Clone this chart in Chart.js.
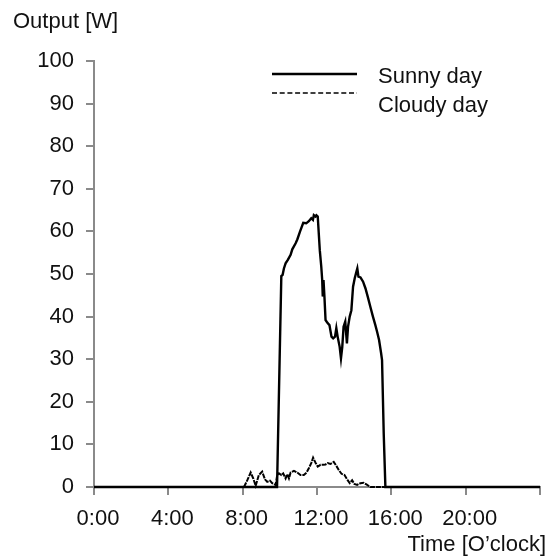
<!DOCTYPE html>
<html>
<head>
<meta charset="utf-8">
<script src="https://cdn.jsdelivr.net/npm/chart.js@4"></script>
<style>
  html, body { margin: 0; padding: 0; background: #fff; }
  #wrap { width: 555px; height: 556px; position: relative; }
</style>
</head>
<body>
<div id="wrap"><canvas id="chart"></canvas></div>
<script>
'use strict';

// time of day in decimal hours, output in W
const sunnyTime = [0, 9.85, 10.08, 10.15, 10.22, 10.31, 10.43, 10.58, 10.67, 10.85, 10.94, 11.08, 11.26, 11.42, 11.56, 11.69, 11.78, 11.83, 11.92, 11.97, 12.04, 12.15, 12.23, 12.28, 12.31, 12.35, 12.40, 12.46, 12.55, 12.67, 12.78, 12.87, 12.97, 13.04, 13.11, 13.22, 13.29, 13.36, 13.43, 13.52, 13.61, 13.67, 13.76, 13.85, 13.94, 14.03, 14.12, 14.17, 14.23, 14.34, 14.48, 14.61, 14.73, 14.87, 15.01, 15.14, 15.23, 15.34, 15.45, 15.50, 15.59, 15.68, 24];
const sunnyPower = [0, 0, 49.5, 49.8, 51.3, 52.5, 53.3, 54.5, 55.8, 57.2, 58.1, 59.9, 62.0, 61.9, 62.4, 63.1, 62.7, 63.8, 63.5, 63.8, 63.5, 55.6, 51.7, 48.6, 44.7, 48.6, 44.7, 39.2, 38.6, 38.0, 35.3, 34.9, 35.3, 37.3, 35.3, 32.9, 30.2, 32.9, 37.6, 38.8, 33.7, 37.6, 40.0, 41.5, 47.0, 49.0, 50.5, 51.3, 49.4, 49.2, 48.2, 46.6, 44.7, 42.3, 40.0, 38.0, 36.5, 34.5, 31.4, 29.8, 12.6, 0, 0];

const cloudyTime = [0, 8.07, 8.25, 8.43, 8.57, 8.70, 8.87, 9.05, 9.20, 9.32, 9.47, 9.59, 9.77, 9.86, 9.95, 10.08, 10.18, 10.31, 10.40, 10.49, 10.58, 10.76, 10.94, 11.11, 11.29, 11.44, 11.56, 11.69, 11.79, 11.92, 12.04, 12.19, 12.33, 12.46, 12.58, 12.72, 12.90, 13.05, 13.17, 13.32, 13.48, 13.62, 13.76, 13.89, 14.01, 14.16, 14.34, 14.51, 14.66, 14.87, 24];
const cloudyPower = [0, 0, 1.6, 3.4, 2.0, 0.3, 2.8, 3.6, 1.8, 1.2, 1.5, 0.9, 0.5, 2.8, 3.2, 2.8, 3.2, 2.0, 3.0, 2.0, 3.4, 3.8, 3.4, 2.8, 2.8, 3.4, 4.4, 5.6, 6.9, 5.7, 4.8, 5.2, 5.2, 5.3, 5.6, 5.4, 5.9, 4.9, 4.0, 3.1, 2.8, 1.8, 0.9, 1.6, 0.7, 0.5, 0.9, 1.0, 0.6, 0, 0];

const seriesLabels = ['Sunny day', 'Cloudy day'];
const xTickHours = [0, 4, 8, 12, 16, 20];
const yTitle = 'Output [W]';
const xTitle = 'Time [O\u2019clock]';

const FONT = "'Liberation Sans', Arial, sans-serif";
const AXIS = '#8a8a8a';
const INK = '#111';

const toPoints = (xs, ys) => xs.map((x, i) => ({ x, y: ys[i] }));

const decorations = {
  id: 'decorations',
  afterDraw(chart) {
    const ctx = chart.ctx;
    ctx.save();
    ctx.fillStyle = INK;
    ctx.font = '22px ' + FONT;
    ctx.textBaseline = 'alphabetic';
    ctx.textAlign = 'left';
    ctx.fillText(yTitle, 13, 28);
    ctx.textAlign = 'right';
    ctx.fillText(xTitle, 546, 551);

    // legend
    const rows = [{ y: 74, ty: 83 }, { y: 93, ty: 112 }];
    chart.data.datasets.forEach((ds, i) => {
      const r = rows[i];
      ctx.beginPath();
      ctx.strokeStyle = ds.borderColor;
      ctx.lineWidth = i === 0 ? 2.4 : 1.5;
      ctx.setLineDash(i === 0 ? [] : [5, 2.7]);
      ctx.moveTo(272, r.y);
      ctx.lineTo(357, r.y);
      ctx.stroke();
      ctx.setLineDash([]);
      ctx.textAlign = 'left';
      ctx.fillText(ds.label, 378, r.ty);
    });
    ctx.restore();
  },
};

new Chart(document.getElementById('chart'), {
  type: 'line',
  data: {
    datasets: [
      {
        label: seriesLabels[0],
        data: toPoints(sunnyTime, sunnyPower),
        borderColor: '#000',
        borderWidth: 2.4,
        pointRadius: 0,
        tension: 0,
        clip: 4,
      },
      {
        label: seriesLabels[1],
        data: toPoints(cloudyTime, cloudyPower),
        borderColor: '#000',
        borderWidth: 2,
        borderDash: [5, 1],
        pointRadius: 0,
        tension: 0,
        clip: 4,
      },
    ],
  },
  options: {
    responsive: true,
    maintainAspectRatio: false,
    animation: false,
    layout: { padding: { top: 61, right: 15, bottom: 0, left: 0 } },
    plugins: {
      legend: { display: false },
      tooltip: { enabled: false },
    },
    scales: {
      x: {
        type: 'linear',
        min: 0,
        max: 24,
        afterFit: (s) => { s.height = 69; },
        afterBuildTicks: (s) => { s.ticks = xTickHours.concat([24]).map((v) => ({ value: v })); },
        grid: { drawOnChartArea: false, drawTicks: true, tickLength: 8, color: AXIS, lineWidth: 2 },
        border: { display: true, color: AXIS, width: 2 },
        ticks: {
          color: INK,
          font: { family: FONT, size: 22 },
          padding: 11,
          labelOffset: 4,
          maxRotation: 0,
          autoSkip: false,
          callback: (v) => (xTickHours.includes(v) ? v + ':00' : ''),
        },
      },
      y: {
        min: 0,
        max: 100,
        afterFit: (s) => { s.width = 94; },
        grid: { drawOnChartArea: false, drawTicks: true, tickLength: 8, color: AXIS, lineWidth: 2 },
        border: { display: true, color: AXIS, width: 2 },
        ticks: {
          stepSize: 10,
          color: INK,
          font: { family: FONT, size: 22 },
          padding: 12,
        },
      },
    },
  },
  plugins: [decorations],
});
</script>
</body>
</html>
